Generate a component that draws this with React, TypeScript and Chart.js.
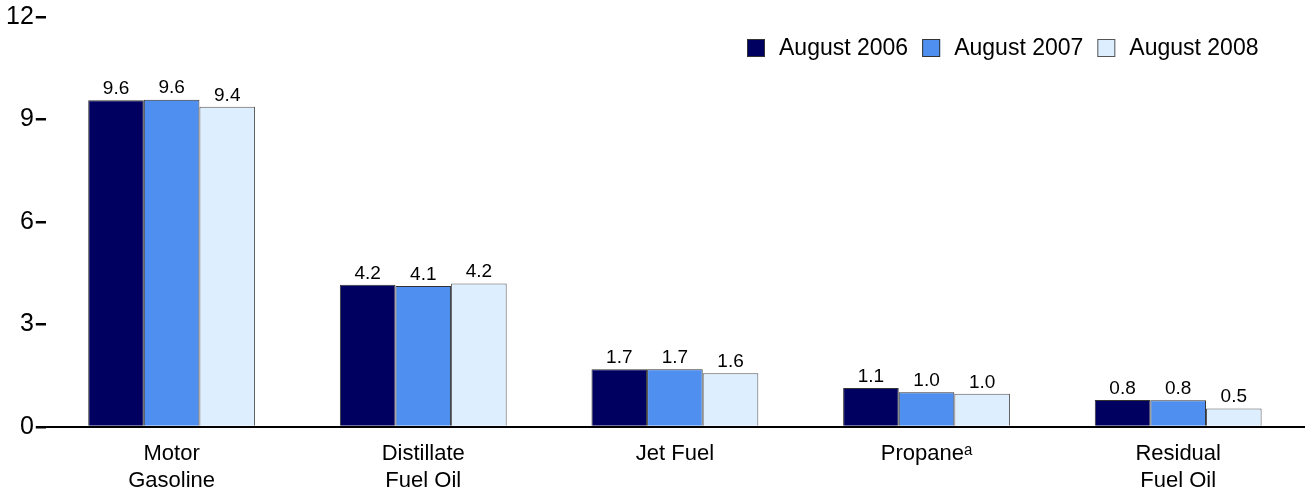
import React, { useEffect, useRef } from "react";
import { Chart, registerables } from "chart.js";

Chart.register(...registerables);

const categories: string[][] = [
  ["Motor", "Gasoline"],
  ["Distillate", "Fuel Oil"],
  ["Jet Fuel"],
  ["Propaneᵃ"],
  ["Residual", "Fuel Oil"],
];
const seriesNames = ["August 2006", "August 2007", "August 2008"];
const aug2006 = [9.56, 4.16, 1.69, 1.14, 0.79];
const aug2007 = [9.58, 4.13, 1.69, 1.02, 0.78];
const aug2008 = [9.37, 4.2, 1.57, 0.97, 0.54];
const yTicks = [0, 3, 6, 9, 12];

const FONT = "'Liberation Sans', Arial, sans-serif";

const valueLabels = {
  id: "valueLabels",
  afterDatasetsDraw(chart: any) {
    const ctx = chart.ctx;
    ctx.save();
    ctx.font = `19px ${FONT}`;
    ctx.fillStyle = "#000";
    ctx.textAlign = "center";
    ctx.textBaseline = "bottom";
    chart.data.datasets.forEach((ds: any, i: number) => {
      const meta = chart.getDatasetMeta(i);
      meta.data.forEach((bar: any, j: number) => {
        ctx.fillText(Number(ds.data[j]).toFixed(1), bar.x, bar.y - 2);
      });
    });
    ctx.restore();
  },
};

const overlayLegend = {
  id: "overlayLegend",
  afterDraw(chart: any) {
    const ctx = chart.ctx;
    ctx.save();
    ctx.font = `23px ${FONT}`;
    ctx.textBaseline = "middle";
    ctx.textAlign = "left";
    const box = 18;
    const gap = 14;
    const between = 14;
    const right = chart.chartArea.right - 46;
    const cy = 48;
    const items = chart.data.datasets.map((ds: any) => ({
      text: ds.label,
      fill: ds.backgroundColor,
      stroke: ds.borderColor,
      w: box + gap + ctx.measureText(ds.label).width,
    }));
    const total = items.reduce((s: number, it: any) => s + it.w, 0) + between * (items.length - 1);
    let x = Math.round(right - total);
    items.forEach((it: any) => {
      ctx.fillStyle = it.fill;
      ctx.fillRect(x, cy - box / 2, box, box);
      ctx.strokeStyle = it.stroke;
      ctx.lineWidth = 1;
      ctx.strokeRect(x + 0.5, cy - box / 2 + 0.5, box - 1, box - 1);
      ctx.fillStyle = "#000";
      ctx.fillText(it.text, x + box + gap, cy + 1);
      x += it.w + between;
    });
    ctx.restore();
  },
};

export default function App() {
  const ref = useRef<HTMLCanvasElement>(null);
  useEffect(() => {
    if (!ref.current) return;
    const chart = new Chart(ref.current, {
      type: "bar",
      data: {
        labels: categories,
        datasets: [
          { label: seriesNames[0], data: aug2006, backgroundColor: "#000060", borderColor: "#333", borderWidth: 1 },
          { label: seriesNames[1], data: aug2007, backgroundColor: "#4f8ff0", borderColor: "#333", borderWidth: 1 },
          { label: seriesNames[2], data: aug2008, backgroundColor: "#ddeeff", borderColor: "#555", borderWidth: 1 },
        ],
      },
      options: {
        animation: false,
        responsive: true,
        maintainAspectRatio: false,
        layout: { padding: { top: 6, right: 6, bottom: 0, left: 4 } },
        datasets: { bar: { categoryPercentage: 0.663, barPercentage: 1.0 } } as any,
        plugins: {
          legend: { display: false },
          tooltip: { enabled: false },
        },
        scales: {
          x: {
            grid: { display: false },
            border: { display: true, color: "#000", width: 2 },
            ticks: { color: "#000", font: { size: 22, family: FONT, lineHeight: 1.22 }, padding: 6, maxRotation: 0 },
            afterFit: (scale: any) => {
              scale.height = 67;
            },
          },
          y: {
            min: 0,
            max: 12,
            afterBuildTicks: (axis: any) => {
              axis.ticks = yTicks.map((v) => ({ value: v }));
            },
            grid: { drawOnChartArea: false, drawTicks: true, tickLength: 10, tickColor: "#000", lineWidth: 2.5 },
            border: { display: false },
            ticks: { color: "#000", font: { size: 25, family: FONT }, padding: 2 },
          },
        },
      },
      plugins: [valueLabels, overlayLegend],
    });
    return () => chart.destroy();
  }, []);
  return (
    <div style={{ position: "absolute", left: 0, top: 0, width: 1310, height: 494 }}>
      <canvas ref={ref} />
    </div>
  );
}
